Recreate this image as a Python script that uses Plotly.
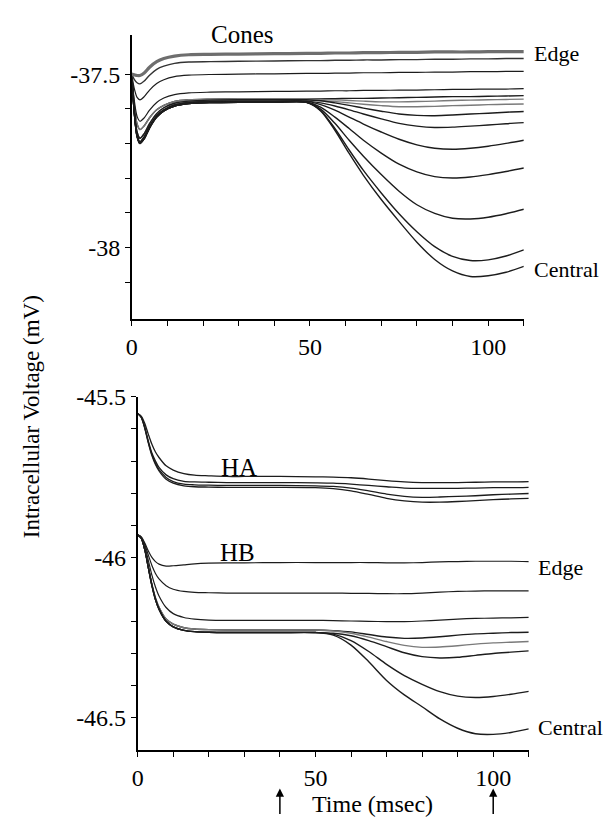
import plotly.graph_objects as go

W, H = 605, 819
SERIF = "Liberation Serif, Times New Roman, Nimbus Roman, DejaVu Serif, serif"

# ---------------- Cones panel (top) ----------------
T_CONE_EARLY = [0, 0.7, 1.5, 2.3, 3.5, 5, 7, 9, 12, 16, 22, 30, 40]
T_CONE_LATE = [49, 53, 57, 61, 65, 70, 75, 80, 85, 90, 95, 100, 105, 110]

# edge-side cone traces (early part, late part)
CONE_E1_EARLY = [-37.500, -37.502, -37.504, -37.504, -37.497, -37.480, -37.464, -37.455, -37.448, -37.444, -37.443, -37.442, -37.441]
CONE_E1_LATE = [-37.440, -37.440, -37.439, -37.439, -37.438, -37.438, -37.437, -37.437, -37.436, -37.436, -37.436, -37.435, -37.435, -37.435]
CONE_E2_EARLY = [-37.500, -37.515, -37.525, -37.528, -37.520, -37.503, -37.486, -37.477, -37.469, -37.465, -37.464, -37.463, -37.462]
CONE_E2_LATE = [-37.461, -37.461, -37.460, -37.460, -37.459, -37.459, -37.458, -37.458, -37.457, -37.457, -37.456, -37.456, -37.455, -37.455]
CONE_E3_EARLY = [-37.500, -37.541, -37.567, -37.574, -37.565, -37.546, -37.527, -37.516, -37.507, -37.503, -37.501, -37.500, -37.499]
CONE_E3_LATE = [-37.498, -37.498, -37.497, -37.497, -37.496, -37.496, -37.495, -37.495, -37.494, -37.494, -37.493, -37.493, -37.492, -37.492]
CONE_E4_EARLY = [-37.500, -37.575, -37.622, -37.636, -37.626, -37.604, -37.582, -37.569, -37.559, -37.554, -37.552, -37.551, -37.550]
CONE_E4_LATE = [-37.549, -37.549, -37.548, -37.548, -37.547, -37.547, -37.546, -37.546, -37.545, -37.544, -37.544, -37.543, -37.543, -37.542]

# early transients of the converging bundle
BUNDLE_EARLY_A = [-37.500, -37.588, -37.644, -37.660, -37.649, -37.626, -37.603, -37.590, -37.579, -37.574, -37.572, -37.571, -37.571]
BUNDLE_EARLY_B = [-37.500, -37.602, -37.667, -37.685, -37.672, -37.643, -37.614, -37.597, -37.584, -37.578, -37.575, -37.574, -37.574]
BUNDLE_EARLY_C = [-37.500, -37.607, -37.676, -37.695, -37.681, -37.651, -37.620, -37.603, -37.589, -37.582, -37.579, -37.578, -37.578]
BUNDLE_EARLY_D = [-37.500, -37.610, -37.680, -37.700, -37.686, -37.655, -37.624, -37.606, -37.592, -37.585, -37.582, -37.581, -37.581]

# late responses of the bundle, from edge towards centre
BUNDLE_LATE_10 = [-37.571, -37.571, -37.571, -37.570, -37.570, -37.569, -37.568, -37.567, -37.566, -37.565, -37.565, -37.564, -37.563, -37.562]
BUNDLE_LATE_9 = [-37.571, -37.572, -37.574, -37.576, -37.578, -37.580, -37.580, -37.579, -37.578, -37.576, -37.575, -37.574, -37.573, -37.572]
BUNDLE_LATE_8 = [-37.574, -37.576, -37.579, -37.583, -37.587, -37.591, -37.594, -37.594, -37.593, -37.591, -37.590, -37.588, -37.587, -37.586]
BUNDLE_LATE_7 = [-37.574, -37.577, -37.583, -37.590, -37.598, -37.607, -37.615, -37.619, -37.620, -37.618, -37.615, -37.613, -37.610, -37.608]
BUNDLE_LATE_6 = [-37.578, -37.583, -37.592, -37.603, -37.615, -37.629, -37.642, -37.650, -37.654, -37.653, -37.650, -37.647, -37.643, -37.640]
BUNDLE_LATE_5 = [-37.578, -37.588, -37.604, -37.624, -37.644, -37.667, -37.688, -37.704, -37.714, -37.717, -37.714, -37.708, -37.700, -37.691]
BUNDLE_LATE_4 = [-37.581, -37.595, -37.624, -37.657, -37.691, -37.728, -37.760, -37.782, -37.796, -37.800, -37.797, -37.790, -37.781, -37.771]
BUNDLE_LATE_3 = [-37.581, -37.601, -37.642, -37.691, -37.737, -37.790, -37.838, -37.877, -37.902, -37.916, -37.918, -37.913, -37.903, -37.890]
BUNDLE_LATE_2 = [-37.581, -37.605, -37.657, -37.719, -37.778, -37.843, -37.903, -37.955, -37.998, -38.026, -38.038, -38.036, -38.025, -38.007]
BUNDLE_LATE_1 = [-37.581, -37.606, -37.662, -37.729, -37.792, -37.862, -37.925, -37.985, -38.035, -38.068, -38.084, -38.082, -38.072, -38.055]

# ---------------- Horizontal cells panel (bottom) ----------------
T_H = [0, 1, 2, 3, 4, 5, 6, 8, 10, 13, 16, 20, 25, 30, 40, 50,
       55, 60, 65, 70, 75, 80, 85, 90, 95, 100, 105, 110]

HA_1 = [-45.552, -45.560, -45.583, -45.617, -45.648, -45.672, -45.689, -45.715, -45.728, -45.739, -45.744, -45.746, -45.748, -45.748, -45.748, -45.749,
        -45.750, -45.752, -45.756, -45.761, -45.765, -45.767, -45.767, -45.767, -45.766, -45.765, -45.765, -45.764]
HA_2 = [-45.552, -45.563, -45.595, -45.638, -45.675, -45.700, -45.720, -45.743, -45.755, -45.763, -45.765, -45.766, -45.767, -45.767, -45.767, -45.768,
        -45.769, -45.772, -45.776, -45.780, -45.784, -45.785, -45.785, -45.785, -45.784, -45.783, -45.783, -45.782]
HA_3 = [-45.552, -45.563, -45.597, -45.642, -45.680, -45.707, -45.727, -45.751, -45.764, -45.772, -45.774, -45.775, -45.776, -45.776, -45.776, -45.777,
        -45.779, -45.784, -45.793, -45.803, -45.810, -45.813, -45.812, -45.810, -45.808, -45.805, -45.803, -45.801]
HA_4 = [-45.552, -45.564, -45.598, -45.644, -45.683, -45.711, -45.731, -45.757, -45.769, -45.777, -45.780, -45.781, -45.782, -45.782, -45.782, -45.783,
        -45.786, -45.793, -45.804, -45.816, -45.824, -45.828, -45.828, -45.826, -45.823, -45.820, -45.818, -45.816]

HB_EDGE = [-45.930, -45.936, -45.955, -45.980, -46.000, -46.013, -46.021, -46.027, -46.026, -46.023, -46.020, -46.018, -46.017, -46.017, -46.016, -46.016,
           -46.016, -46.016, -46.016, -46.017, -46.017, -46.016, -46.014, -46.013, -46.012, -46.012, -46.012, -46.013]
HB_2 = [-45.930, -45.937, -45.960, -45.993, -46.025, -46.050, -46.067, -46.088, -46.099, -46.106, -46.109, -46.110, -46.111, -46.111, -46.111, -46.111,
        -46.111, -46.112, -46.112, -46.113, -46.113, -46.111, -46.108, -46.106, -46.105, -46.104, -46.104, -46.104]
HB_3 = [-45.930, -45.938, -45.965, -46.010, -46.055, -46.092, -46.120, -46.156, -46.175, -46.187, -46.192, -46.195, -46.196, -46.196, -46.196, -46.196,
        -46.197, -46.198, -46.199, -46.200, -46.200, -46.198, -46.195, -46.192, -46.190, -46.189, -46.188, -46.187]

# the dark HB bundle, two slightly separated plateaus
HB_BUNDLE_EARLY_1 = [-45.930, -45.940, -45.975, -46.030, -46.084, -46.126, -46.155, -46.192, -46.208, -46.219, -46.223, -46.225, -46.226, -46.226, -46.226, -46.226]
HB_BUNDLE_EARLY_2 = [-45.930, -45.940, -45.976, -46.032, -46.087, -46.131, -46.161, -46.199, -46.216, -46.227, -46.231, -46.233, -46.234, -46.234, -46.234, -46.234]
HB_LATE_A = [-46.228, -46.232, -46.240, -46.248, -46.252, -46.251, -46.247, -46.242, -46.238, -46.236, -46.234, -46.233]
HB_LATE_E = [-46.229, -46.236, -46.248, -46.262, -46.274, -46.280, -46.279, -46.275, -46.270, -46.266, -46.264, -46.262]
HB_LATE_B = [-46.236, -46.244, -46.259, -46.278, -46.297, -46.309, -46.313, -46.311, -46.305, -46.299, -46.295, -46.291]
HB_LATE_C = [-46.239, -46.259, -46.293, -46.333, -46.368, -46.395, -46.418, -46.432, -46.436, -46.433, -46.426, -46.417]
HB_LATE_D = [-46.242, -46.273, -46.325, -46.383, -46.428, -46.465, -46.503, -46.532, -46.549, -46.551, -46.545, -46.534]

X_TICKS = [0, 10, 20, 30, 40, 50, 60, 70, 80, 90, 100, 110]
X_TICK_TEXT = ["0", "", "", "", "", "50", "", "", "", "", "100", ""]
CONE_Y_TICKS = [-38.1, -38.0, -37.9, -37.8, -37.7, -37.6, -37.5]
CONE_Y_TEXT = ["", "-38", "", "", "", "", "-37.5"]
H_Y_TICKS = [-46.5, -46.4, -46.3, -46.2, -46.1, -46.0, -45.9, -45.8, -45.7, -45.6, -45.5]
H_Y_TEXT = ["-46.5", "", "", "", "", "-46", "", "", "", "", "-45.5"]
STIM_TIMES = [40, 100]


def px(x):
    return x / W


def py(y):
    return 1 - y / H


INK = "#1c1c1c"
GREY = "#7a7a7a"

fig = go.Figure()


def add_line(x, y, axis, color=INK, width=1.2):
    fig.add_trace(go.Scatter(
        x=x, y=y, mode="lines", xaxis="x" if axis == 1 else "x2",
        yaxis="y" if axis == 1 else "y2",
        line=dict(color=color, width=width, shape="spline", smoothing=0.8),
        hoverinfo="skip", showlegend=False))


t_cone = T_CONE_EARLY + T_CONE_LATE
cone_bundle = [
    (BUNDLE_EARLY_A, BUNDLE_LATE_10, INK),
    (BUNDLE_EARLY_A, BUNDLE_LATE_9, GREY),
    (BUNDLE_EARLY_B, BUNDLE_LATE_8, GREY),
    (BUNDLE_EARLY_B, BUNDLE_LATE_7, INK),
    (BUNDLE_EARLY_C, BUNDLE_LATE_6, INK),
    (BUNDLE_EARLY_C, BUNDLE_LATE_5, INK),
    (BUNDLE_EARLY_D, BUNDLE_LATE_4, INK),
    (BUNDLE_EARLY_D, BUNDLE_LATE_3, INK),
    (BUNDLE_EARLY_D, BUNDLE_LATE_2, INK),
    (BUNDLE_EARLY_D, BUNDLE_LATE_1, INK),
]
for early, late, col in cone_bundle:
    add_line(t_cone, early + late, 1, col, 1.4)

add_line(t_cone, CONE_E4_EARLY + CONE_E4_LATE, 1)
add_line(t_cone, CONE_E3_EARLY + CONE_E3_LATE, 1)
add_line(t_cone, CONE_E2_EARLY + CONE_E2_LATE, 1, "#333333", 1.4)
add_line(t_cone, CONE_E1_EARLY + CONE_E1_LATE, 1, "#6e6e6e", 3.2)

for tr in (HA_1, HA_2, HA_3, HA_4):
    add_line(T_H, tr, 2, INK, 1.3)
for tr in (HB_EDGE, HB_2, HB_3):
    add_line(T_H, tr, 2)
for early, late, col in ((HB_BUNDLE_EARLY_1, HB_LATE_A, INK),
                         (HB_BUNDLE_EARLY_1, HB_LATE_E, GREY),
                         (HB_BUNDLE_EARLY_2, HB_LATE_B, INK),
                         (HB_BUNDLE_EARLY_2, HB_LATE_C, INK),
                         (HB_BUNDLE_EARLY_2, HB_LATE_D, INK)):
    add_line(T_H, early + late, 2, col, 1.4)

tick_font = dict(family=SERIF, size=24, color="black")
axis_common = dict(showline=True, linecolor="black", linewidth=1.5,
                   ticks="outside", ticklen=5, tickwidth=1.2, tickcolor="black",
                   showgrid=False, zeroline=False, tickfont=tick_font,
                   tickmode="array", fixedrange=True)

fig.update_layout(
    width=W, height=H, autosize=False,
    margin=dict(l=0, r=0, t=0, b=0),
    paper_bgcolor="white", plot_bgcolor="white",
    font=dict(family=SERIF, color="black"),
    xaxis=dict(domain=[px(127), px(523)], range=[0, 110], anchor="y",
               tickvals=X_TICKS, ticktext=X_TICK_TEXT, **axis_common),
    yaxis=dict(domain=[py(311), py(22)], range=[-38.207, -37.386], anchor="x",
               tickvals=CONE_Y_TICKS, ticktext=CONE_Y_TEXT, **axis_common),
    xaxis2=dict(domain=[px(133), px(528)], range=[0, 110], anchor="y2",
                tickvals=X_TICKS, ticktext=X_TICK_TEXT, **axis_common),
    yaxis2=dict(domain=[py(749), py(390)], range=[-46.6, -45.5], anchor="x2",
                tickvals=H_Y_TICKS, ticktext=H_Y_TEXT, **axis_common),
)


def label(text, x, y, size=22, xanchor="center", angle=0):
    fig.add_annotation(text=text, x=px(x), y=py(y), xref="paper", yref="paper",
                       showarrow=False, xanchor=xanchor, yanchor="middle",
                       textangle=angle, font=dict(family=SERIF, size=size, color="black"))


label("Cones", 239, 22, 25)
label("Edge", 531, 41, 22, "left")
label("Central", 531, 261, 22, "left")
label("HA", 235, 462, 25)
label("HB", 234, 548, 25)
label("Edge", 535, 563, 22, "left")
label("Central", 535, 726, 22, "left")
label("Intracellular Voltage (mV)", 26, 410, 23, angle=-90)
label("Time (msec)", 370, 804, 24)

for t in STIM_TIMES:
    fig.add_annotation(x=t, y=py(788), xref="x2", yref="paper", text="",
                       showarrow=True, ax=0, ay=27, arrowhead=2, arrowsize=1.1,
                       arrowwidth=1.5, arrowcolor="black")

# keep the figure flush with the page corner
fig.write_html("out.html", post_script="document.body.style.margin='0';")
